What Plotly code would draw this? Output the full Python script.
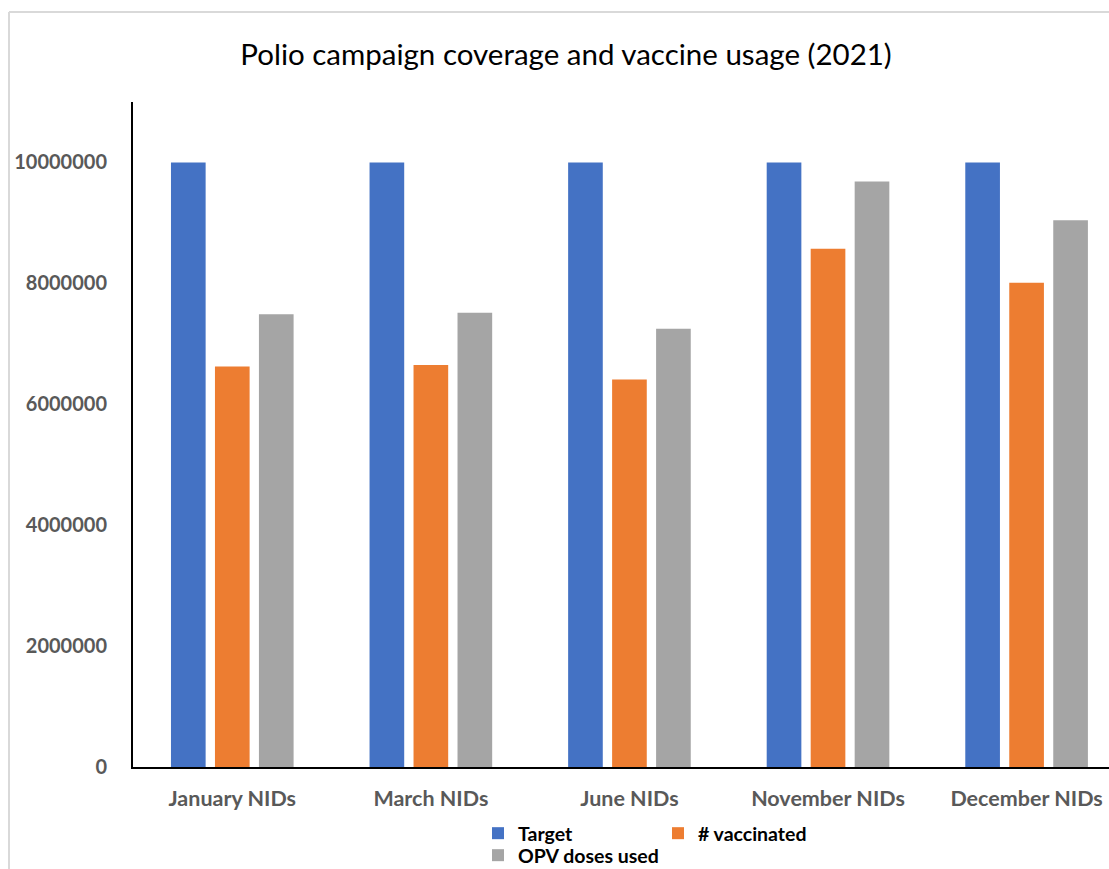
import plotly.graph_objects as go

# Campaign rounds and figures
campaigns = ["January NIDs", "March NIDs", "June NIDs", "November NIDs", "December NIDs"]
target = [10000000, 10000000, 10000000, 10000000, 10000000]
vaccinated = [6626000, 6648000, 6410000, 8573000, 8010000]
opv_doses_used = [7490000, 7515000, 7250000, 9686000, 9046000]

y_ticks = [0, 2000000, 4000000, 6000000, 8000000, 10000000]

W, H = 1109, 869
ML, MR, MT, MB = 133, 0, 102, 102
PW, PH = W - ML - MR, H - MT - MB


def px_to_paper_x(px):
    return (px - ML) / PW


def px_to_paper_y(py):
    return (H - MB - py) / PH


fig = go.Figure()
fig.add_trace(go.Bar(name="Target", x=campaigns, y=target,
                     marker=dict(color="#4472C4", line=dict(width=0)), legend="legend"))
fig.add_trace(go.Bar(name="# vaccinated", x=campaigns, y=vaccinated,
                     marker=dict(color="#ED7D31", line=dict(width=0)), legend="legend"))
fig.add_trace(go.Bar(name="OPV doses used", x=campaigns, y=opv_doses_used,
                     marker=dict(color="#A5A5A5", line=dict(width=0)), legend="legend2"))

ytick_font = dict(family="Lato", size=20, color="#595959", weight="bold")
xtick_font = dict(family="Lato", size=21.5, color="#595959", weight="bold")
legend_font = dict(family="Lato", size=19.5, color="#000000", weight="bold")

# Light chart-area frame (top and left edges)
frame = dict(type="line", xref="paper", yref="paper", line=dict(color="#D9D9D9", width=2), layer="below")
shapes = [
    dict(frame, x0=px_to_paper_x(9), x1=px_to_paper_x(W + 5), y0=px_to_paper_y(12), y1=px_to_paper_y(12)),
    dict(frame, x0=px_to_paper_x(9), x1=px_to_paper_x(9), y0=px_to_paper_y(12), y1=px_to_paper_y(H + 5)),
]

fig.update_layout(
    width=W, height=H,
    margin=dict(l=ML, r=MR, t=MT, b=MB),
    paper_bgcolor="white", plot_bgcolor="white",
    barmode="group", bargap=0.3355, bargroupgap=0.212,
    title=dict(text="Polio campaign coverage and vaccine usage (2021)",
               font=dict(family="Lato", size=29.5, color="#000000"),
               x=566 / W, xref="container", xanchor="center",
               y=1 - 55 / H, yref="container", yanchor="middle"),
    xaxis=dict(type="category", range=[-0.5, 4.415], showline=True, linecolor="#000000",
               linewidth=2, showgrid=False, ticks="", tickfont=xtick_font, ticklabelstandoff=11,
               zeroline=False),
    yaxis=dict(range=[0, 11000000], tickvals=y_ticks, tickformat="d", showline=True,
               linecolor="#000000", linewidth=2, showgrid=False, ticks="", zeroline=False,
               tickfont=ytick_font, ticklabelstandoff=20),
    legend=dict(orientation="h", x=px_to_paper_x(478), xanchor="left",
                y=1 - 814 / H, yref="container", yanchor="top",
                font=legend_font, entrywidth=135, itemwidth=30, tracegroupgap=0,
                bgcolor="rgba(0,0,0,0)"),
    legend2=dict(orientation="h", x=px_to_paper_x(478), xanchor="left",
                 y=1 - 836 / H, yref="container", yanchor="top",
                 font=legend_font, itemwidth=30, bgcolor="rgba(0,0,0,0)"),
    shapes=shapes,
    showlegend=True,
)

fig.write_html("out.html")
